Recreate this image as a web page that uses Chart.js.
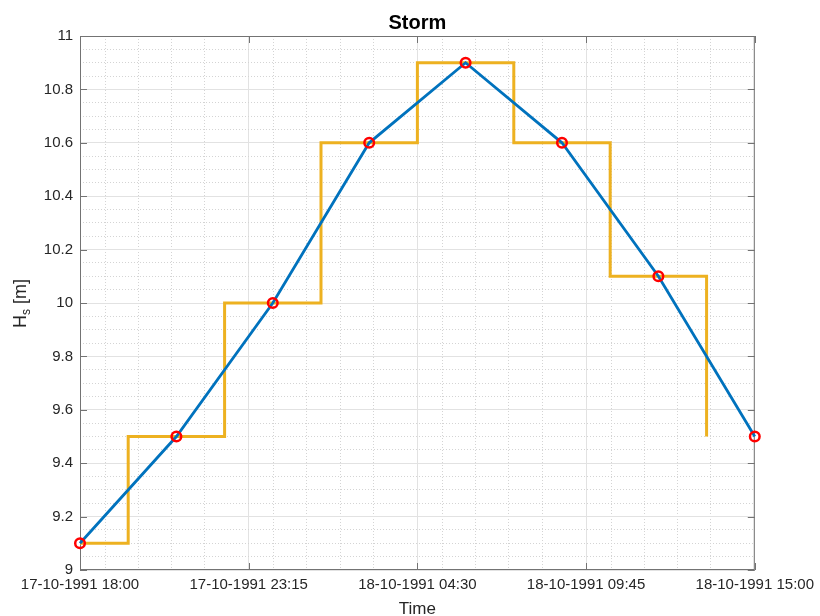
<!DOCTYPE html>
<html>
<head>
<meta charset="utf-8">
<script src="https://cdn.jsdelivr.net/npm/chart.js@4.4.1/dist/chart.umd.min.js"></script>
<style>
  html, body { margin: 0; padding: 0; background: #fff; }
  #wrap { width: 820px; height: 616px; }
</style>
</head>
<body>
<div id="wrap"><canvas id="c"></canvas></div>
<script>
// ---- data --------------------------------------------------------------------
const obsTimes = [
  '17-10-1991 18:00', '17-10-1991 21:00', '18-10-1991 00:00', '18-10-1991 03:00',
  '18-10-1991 06:00', '18-10-1991 09:00', '18-10-1991 12:00', '18-10-1991 15:00',
];
const obsHs = [9.1, 9.5, 10.0, 10.6, 10.9, 10.6, 10.1, 9.5];

// stairs, centred on each observation
const stairTimes = [
  '17-10-1991 18:00', '17-10-1991 19:30', '17-10-1991 22:30', '18-10-1991 01:30',
  '18-10-1991 04:30', '18-10-1991 07:30', '18-10-1991 10:30', '18-10-1991 13:30',
];
const stairHs = [9.1, 9.5, 10.0, 10.6, 10.9, 10.6, 10.1, 9.5];

const xTickLabels = [
  '17-10-1991 18:00', '17-10-1991 23:15', '18-10-1991 04:30',
  '18-10-1991 09:45', '18-10-1991 15:00',
];
const xMinorOffsets = [0.78, 1.81, 2.85, 3.88];   // hours after each major tick
const yTickValues = [9, 9.2, 9.4, 9.6, 9.8, 10, 10.2, 10.4, 10.6, 10.8, 11];
const yMinorStep = 0.05;

// ---- helpers -----------------------------------------------------------------
const FONT = '"Liberation Sans", Arial, Helvetica, sans-serif';
const TXT  = 'rgb(38,38,38)';
const AXC  = 'rgb(115,115,115)';

function toHours(s) {
  const [d, t] = s.split(' ');
  const [dd, mm, yy] = d.split('-').map(Number);
  const [hh, mi] = t.split(':').map(Number);
  return Date.UTC(yy, mm - 1, dd, hh, mi) / 3.6e6;
}
const T0 = toHours(xTickLabels[0]);
const hrs = s => toHours(s) - T0;

const xMajor = xTickLabels.map(hrs);
const xMin = xMajor[0], xMax = xMajor[xMajor.length - 1];
const xMinor = [];
for (let i = 0; i < xMajor.length - 1; i++)
  for (const o of xMinorOffsets) xMinor.push(xMajor[i] + o);
const yMinor = [];
for (let v = 9; v <= 11.0001; v += yMinorStep) {
  const r = Math.round(v * 100) / 100;
  if (Math.abs(r * 5 - Math.round(r * 5)) > 1e-6) yMinor.push(r);
}

// ---- box, inward ticks and titles --------------------------------------------
const matlabAxes = {
  id: 'matlabAxes',
  beforeDatasetsDraw(chart) {
    const { ctx, chartArea: a, scales } = chart;
    ctx.save();
    ctx.strokeStyle = AXC;
    ctx.lineWidth = 1;
    ctx.strokeRect(a.left + 0.5, a.top + 0.5, a.right - a.left - 1, a.bottom - a.top - 1);
    ctx.beginPath();
    const tl = 7;
    for (const v of xMajor) {
      const x = Math.round(scales.x.getPixelForValue(v)) + 0.5;
      ctx.moveTo(x, a.bottom); ctx.lineTo(x, a.bottom - tl);
      ctx.moveTo(x, a.top);    ctx.lineTo(x, a.top + tl);
    }
    for (const v of yTickValues) {
      const y = Math.round(scales.y.getPixelForValue(v)) + 0.5;
      ctx.moveTo(a.left, y);  ctx.lineTo(a.left + tl, y);
      ctx.moveTo(a.right, y); ctx.lineTo(a.right - tl, y);
    }
    ctx.stroke();
    ctx.restore();
  },
  afterDraw(chart) {
    const { ctx, chartArea: a } = chart;
    const cx = (a.left + a.right) / 2;
    ctx.save();
    ctx.fillStyle = '#000';
    ctx.textAlign = 'center';
    ctx.textBaseline = 'alphabetic';
    ctx.font = 'bold 20px ' + FONT;
    ctx.fillText('Storm', cx, 28.5);

    ctx.fillStyle = TXT;
    ctx.font = '17px ' + FONT;
    ctx.fillText('Time', cx, 614);

    // y label: H_s [m]
    ctx.translate(26, 328);
    ctx.rotate(-Math.PI / 2);
    ctx.textAlign = 'left';
    ctx.font = '18px ' + FONT;
    ctx.fillText('H', 0, 0);
    let w = ctx.measureText('H').width;
    ctx.font = '12px ' + FONT;
    ctx.fillText('s', w, 4);
    w += ctx.measureText('s').width;
    ctx.font = '18px ' + FONT;
    ctx.fillText(' [m]', w, 0);
    ctx.restore();
  },
};

// ---- chart -------------------------------------------------------------------
const tickFont = { size: 15, family: FONT };

new Chart(document.getElementById('c'), {
  type: 'line',
  data: {
    datasets: [
      {
        label: 'obs', data: obsTimes.map((t, i) => ({ x: hrs(t), y: obsHs[i] })),
        showLine: false, pointStyle: 'circle', pointRadius: 4.8, pointBorderWidth: 2.5,
        pointBorderColor: 'rgb(255,0,0)', pointBackgroundColor: 'transparent',
        order: 1, clip: false,
      },
      {
        label: 'line', data: obsTimes.map((t, i) => ({ x: hrs(t), y: obsHs[i] })),
        borderColor: 'rgb(0,114,189)', borderWidth: 2.8, pointRadius: 0,
        tension: 0, order: 2, clip: false,
      },
      {
        label: 'stairs', data: stairTimes.map((t, i) => ({ x: hrs(t), y: stairHs[i] })),
        borderColor: 'rgb(237,177,32)', borderWidth: 3, pointRadius: 0,
        stepped: 'before', order: 3, clip: false,
      },
    ],
  },
  options: {
    animation: false,
    responsive: true,
    maintainAspectRatio: false,
    events: [],
    plugins: { legend: { display: false }, tooltip: { enabled: false }, title: { display: false } },
    layout: { padding: { top: 36, right: 64, left: 0, bottom: 0 } },
    scales: {
      x: {
        type: 'linear', position: 'bottom', min: xMin, max: xMax,
        afterBuildTicks: s => { s.ticks = xMajor.map(v => ({ value: v })); },
        afterFit: s => { s.height = 46; },
        ticks: {
          font: tickFont, color: TXT, padding: 6, maxRotation: 0, autoSkip: false,
          callback: (v, i) => xTickLabels[i],
        },
        grid: { color: 'rgb(226,226,226)', lineWidth: 1, drawTicks: false },
        border: { display: false },
      },
      xMinor: {
        type: 'linear', position: 'bottom', min: xMin, max: xMax,
        afterBuildTicks: s => { s.ticks = xMinor.map(v => ({ value: v })); },
        afterFit: s => { s.height = 0; },
        ticks: { display: false },
        grid: { color: 'rgb(212,212,212)', lineWidth: 1, drawTicks: false },
        border: { display: false, dash: [1, 2] },
      },
      y: {
        type: 'linear', position: 'left', min: 9, max: 11,
        afterBuildTicks: s => { s.ticks = yTickValues.map(v => ({ value: v })); },
        afterFit: s => { s.width = 80; },
        ticks: {
          font: tickFont, color: TXT, padding: 7,
          callback: v => String(parseFloat(v.toFixed(1))),
        },
        grid: { color: 'rgb(226,226,226)', lineWidth: 1, drawTicks: false },
        border: { display: false },
      },
      yMinor: {
        type: 'linear', position: 'left', min: 9, max: 11,
        afterBuildTicks: s => { s.ticks = yMinor.map(v => ({ value: v })); },
        afterFit: s => { s.width = 0; },
        ticks: { display: false },
        grid: { color: 'rgb(212,212,212)', lineWidth: 1, drawTicks: false },
        border: { display: false, dash: [1, 2] },
      },
    },
  },
  plugins: [matlabAxes],
});
</script>
</body>
</html>
